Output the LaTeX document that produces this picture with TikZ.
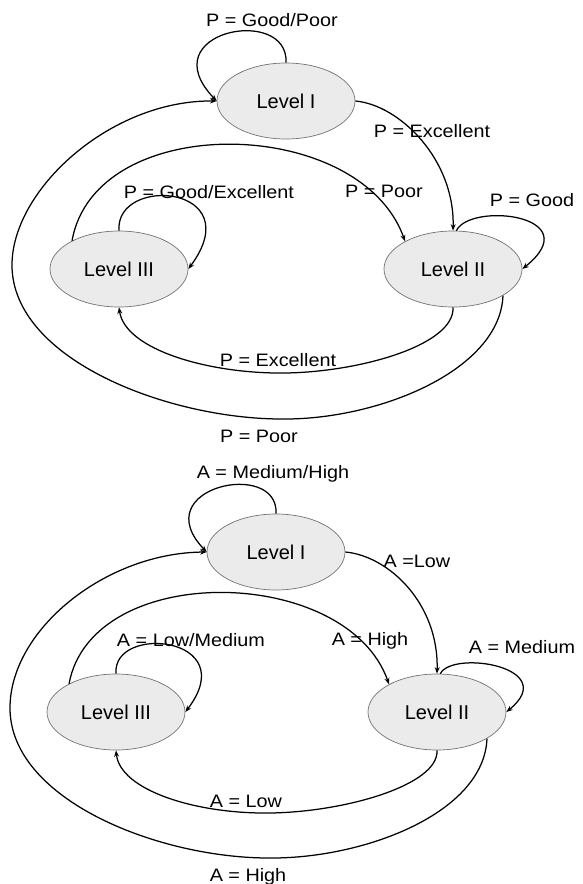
\documentclass[tikz,border=0pt]{standalone}
\usepackage{fontspec}
\setmainfont{Liberation Sans}
\newfontfamily\lblfont[FakeStretch=1.1]{Liberation Sans}
\usetikzlibrary{shapes.geometric,arrows.meta}
\begin{document}
\begin{tikzpicture}[x=1pt,y=-1pt,
  state/.style={ellipse,draw=black!55,fill=black!8,line width=0.7pt,
    minimum width=138pt,minimum height=76pt,inner sep=0pt,
    font=\fontsize{20}{24}\selectfont},
  lbl/.style={anchor=base,inner sep=0pt,font=\lblfont\fontsize{18}{22}\selectfont},
  arr/.style={draw=black,line width=1.25pt,-{Stealth[length=6.5pt,width=5pt]}}]
\useasboundingbox (0,0) rectangle (583,884);

% ---------- top diagram ----------
\node[state] (L1) at (286,101) {Level I};
\node[state] (L3) at (119,269) {Level III};
\node[state] (L2) at (453,269) {Level II};
\coordinate (tb1) at (285,373);
\coordinate (tb2) at (285,419);
\coordinate (tb3) at (12,265);

\draw[arr] (L1.north) .. controls +(3,-58) and +(-67,-70) .. (L1.west);
\draw[arr] (L1.east) .. controls (400,105) and (455,160) .. (L2.north);
\draw[arr] (L3.149) .. controls (95,110) and (360,115) .. (L2.150);
\draw[arr] (L3.north) .. controls +(-4,-56) and +(62,-84) .. (L3.east);
\draw[arr] (L2.85) .. controls +(14,-29) and +(67,-54) .. (L2.east);
\draw[arr] (L2.south) .. controls (455,345) and (360,372) .. (tb1)
  .. controls (210,374) and (125,350) .. (L3.south);
\draw[arr] (L2.-28) .. controls (500,370) and (380,419) .. (tb2)
  .. controls (170,420) and (12,360) .. (tb3)
  .. controls (12,190) and (110,100) .. (L1.west);

\node[lbl] (p1) at (272,26) {P = Good/Poor};
\node[lbl] (p2) at (432,137) {P = Excellent};
\node[lbl] (p3) at (209,198) {P = Good/Excellent};
\node[lbl] (p4) at (384,197) {P = Poor};
\node[lbl] (p5) at (532,206) {P = Good};
\node[lbl] (p6) at (278,366) {P = Excellent};
\node[lbl] (p7) at (259,442) {P = Poor};

% ---------- bottom diagram ----------
\node[state] (M1) at (276,552) {Level I};
\node[state] (M3) at (116,712) {Level III};
\node[state] (M2) at (437,712) {Level II};
\coordinate (bb1) at (270,813);
\coordinate (bb2) at (272,858);
\coordinate (bb3) at (10,708);

\draw[arr] (M1.north) .. controls +(3,-55) and +(-62,-65) .. (M1.west);
\draw[arr] (M1.east) .. controls (389,556) and (439,604) .. (M2.north);
\draw[arr] (M3.149) .. controls (92,560) and (347,565) .. (M2.150);
\draw[arr] (M3.north) .. controls +(-4,-50) and +(58,-76) .. (M3.east);
\draw[arr] (M2.85) .. controls +(12,-24) and +(55,-45) .. (M2.east);
\draw[arr] (M2.south) .. controls (439,785) and (345,812) .. (bb1)
  .. controls (195,814) and (120,790) .. (M3.south);
\draw[arr] (M2.-28) .. controls (484,813) and (365,858) .. (bb2)
  .. controls (160,859) and (10,800) .. (bb3)
  .. controls (10,630) and (105,553) .. (M1.west);

\node[lbl] (a1) at (273,478) {A = Medium/High};
\node[lbl] (a2) at (417,567) {A =Low};
\node[lbl] (a3) at (191,646) {A = Low/Medium};
\node[lbl] (a4) at (370,645) {A = High};
\node[lbl] (a5) at (522,653) {A = Medium};
\node[lbl] (a6) at (246,807) {A = Low};
\node[lbl] (a7) at (248,881) {A = High};
\end{tikzpicture}
\end{document}
